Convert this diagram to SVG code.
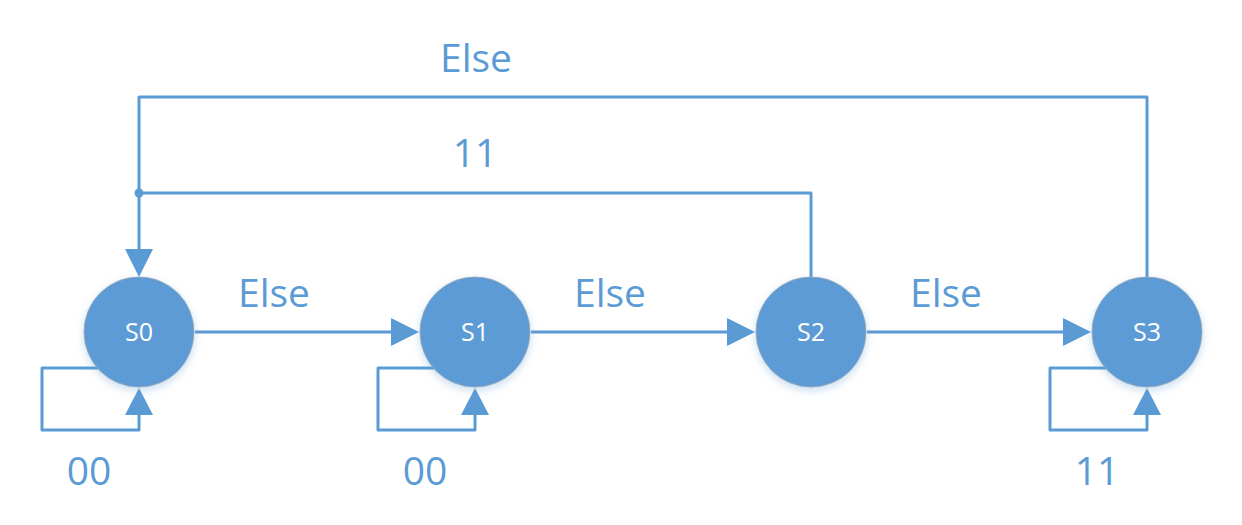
<svg xmlns="http://www.w3.org/2000/svg" width="1242" height="525" viewBox="0 0 1242 525">
<defs>
<style>
.ln{fill:none;stroke:#5B9BD5;stroke-width:3;stroke-linejoin:round}
.ah{fill:#5B9BD5}
.st{fill:#5B9BD5;stroke:#9aa7b3;stroke-width:0.8}
.nt{font-family:"Open Sans","Noto Sans",sans-serif;font-size:25px;fill:#fff;text-anchor:middle}
.lb{font-family:"Open Sans","Noto Sans",sans-serif;font-size:39px;fill:#5B9BD5;text-anchor:middle}
</style>
<filter id="sh" x="-30%" y="-30%" width="160%" height="160%">
<feDropShadow dx="0" dy="3" stdDeviation="4" flood-color="#5B9BD5" flood-opacity="0.35"/>
</filter>
</defs>
<rect width="1242" height="525" fill="#fff"/>
<g id="connectors">
<polyline class="ln" points="1147,277 1147,97 139,97 139,250"/>
<polyline class="ln" points="811,277 811,193 139,193"/>
<circle class="ah" cx="139" cy="193" r="4.5"/>
<polygon class="ah" points="125,249 153,249 139,277"/>
<line class="ln" x1="195" y1="332" x2="392" y2="332"/>
<polygon class="ah" points="391,318 391,346 419,332"/>
<line class="ln" x1="531" y1="332" x2="728" y2="332"/>
<polygon class="ah" points="727,318 727,346 755,332"/>
<line class="ln" x1="867" y1="332" x2="1064" y2="332"/>
<polygon class="ah" points="1063,318 1063,346 1091,332"/>
<polyline class="ln" points="98,368 42,368 42,430 139,430 139,414"/>
<polygon class="ah" points="125,415 153,415 139,388"/>
<polyline class="ln" points="434,368 378,368 378,430 475,430 475,414"/>
<polygon class="ah" points="461,415 489,415 475,388"/>
<polyline class="ln" points="1106,368 1050,368 1050,430 1147,430 1147,414"/>
<polygon class="ah" points="1133,415 1161,415 1147,388"/>
</g>
<g id="labels">
<text class="lb" x="476" y="72">Else</text>
<text class="lb" x="475" y="167">11</text>
<text class="lb" x="274" y="307">Else</text>
<text class="lb" x="610" y="307">Else</text>
<text class="lb" x="946" y="307">Else</text>
<text class="lb" x="89" y="485">00</text>
<text class="lb" x="425" y="485">00</text>
<text class="lb" x="1097" y="485">11</text>
</g>
<g id="S0"><circle class="st" cx="139" cy="332" r="55" filter="url(#sh)"/><text class="nt" x="139" y="341">S0</text></g>
<g id="S1"><circle class="st" cx="475" cy="332" r="55" filter="url(#sh)"/><text class="nt" x="475" y="341">S1</text></g>
<g id="S2"><circle class="st" cx="811" cy="332" r="55" filter="url(#sh)"/><text class="nt" x="811" y="341">S2</text></g>
<g id="S3"><circle class="st" cx="1147" cy="332" r="55" filter="url(#sh)"/><text class="nt" x="1147" y="341">S3</text></g>
</svg>
